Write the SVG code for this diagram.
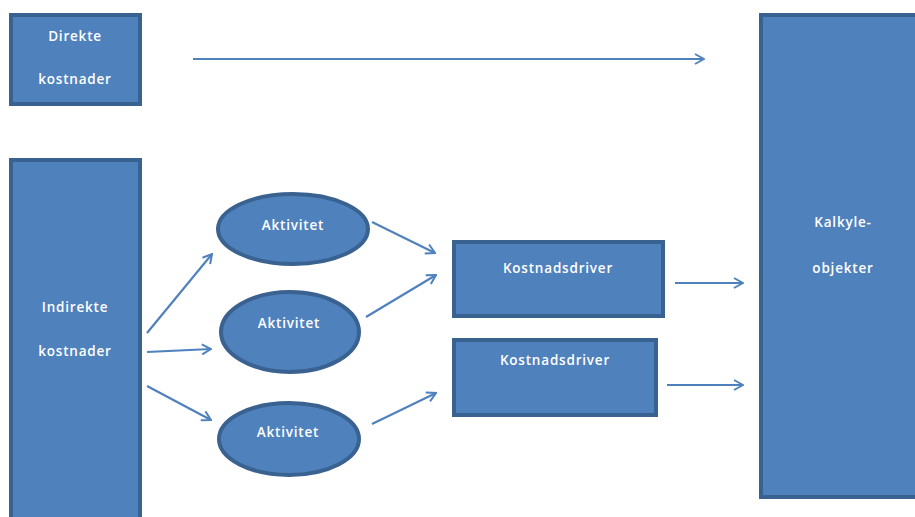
<svg xmlns="http://www.w3.org/2000/svg" width="915" height="517" viewBox="0 0 915 517">
<defs>
<marker id="ah" viewBox="0 0 12 12" refX="11" refY="6" markerWidth="12" markerHeight="12" markerUnits="userSpaceOnUse" orient="auto">
<polyline points="2,1 11,6 2,11" fill="none" stroke="#4f81bd" stroke-width="2"/>
</marker>
<style>
.n{fill:#4f81bd;stroke:#3a6290;stroke-width:4}
.t{fill:#ffffff;font-family:"Open Sans","Liberation Sans",sans-serif;font-size:13.5px;text-anchor:middle;letter-spacing:0.8px;font-weight:600}
.c{stroke:#4f81bd;stroke-width:2.2;fill:none;marker-end:url(#ah)}
</style>
</defs>
<rect width="915" height="517" fill="#ffffff"/>
<g id="direkte">
<rect class="n" x="11" y="15" width="129" height="89"/>
<text class="t" x="75" y="41">Direkte</text>
<text class="t" x="75" y="84">kostnader</text>
</g>
<g id="indirekte">
<rect class="n" x="11" y="160" width="129" height="370"/>
<text class="t" x="75" y="312">Indirekte</text>
<text class="t" x="75" y="356">kostnader</text>
</g>
<g id="aktivitet1">
<ellipse class="n" cx="293" cy="229" rx="75" ry="35"/>
<text class="t" x="293" y="230">Aktivitet</text>
</g>
<g id="aktivitet2">
<ellipse class="n" cx="290" cy="332" rx="69" ry="40"/>
<text class="t" x="289" y="328">Aktivitet</text>
</g>
<g id="aktivitet3">
<ellipse class="n" cx="289" cy="439" rx="70" ry="36"/>
<text class="t" x="288" y="437">Aktivitet</text>
</g>
<g id="kostnadsdriver1">
<rect class="n" x="454" y="242" width="209" height="74"/>
<text class="t" x="558" y="273">Kostnadsdriver</text>
</g>
<g id="kostnadsdriver2">
<rect class="n" x="454" y="340" width="202" height="75"/>
<text class="t" x="555" y="365">Kostnadsdriver</text>
</g>
<g id="kalkyleobjekter">
<rect class="n" x="761" y="15" width="160" height="482"/>
<text class="t" x="843" y="227">Kalkyle-</text>
<text class="t" x="843" y="273">objekter</text>
</g>
<g id="connectors">
<line class="c" x1="193" y1="59" x2="704" y2="59"/>
<line class="c" x1="147" y1="333" x2="212" y2="254"/>
<line class="c" x1="147" y1="352" x2="211" y2="349"/>
<line class="c" x1="147" y1="386" x2="211" y2="420"/>
<line class="c" x1="372" y1="222" x2="435" y2="253"/>
<line class="c" x1="366" y1="317" x2="436" y2="275"/>
<line class="c" x1="372" y1="424" x2="436" y2="393"/>
<line class="c" x1="675" y1="283" x2="743" y2="283"/>
<line class="c" x1="667" y1="385" x2="743" y2="385"/>
</g>
</svg>
